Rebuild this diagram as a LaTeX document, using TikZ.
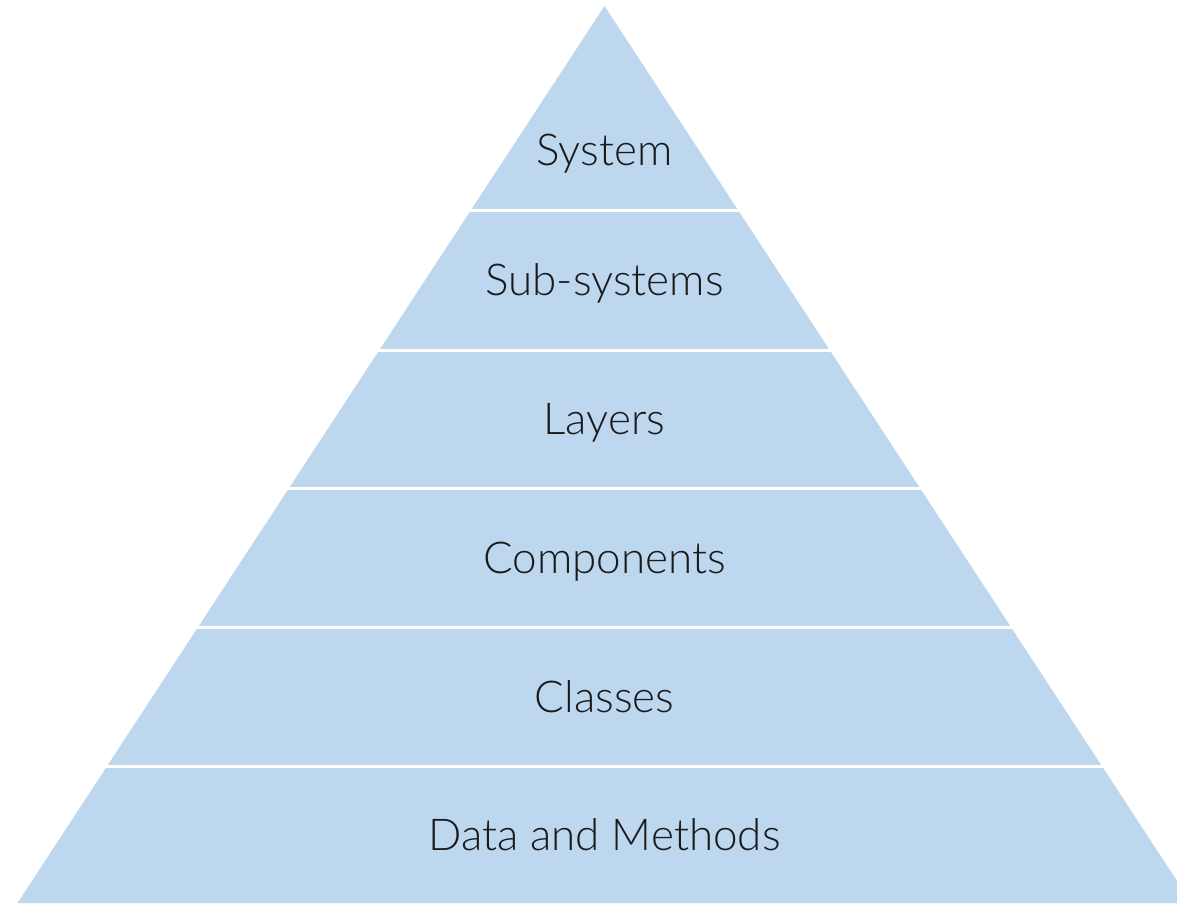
\documentclass[tikz,border=0pt]{standalone}
\usepackage{fontspec}
\setmainfont{Lato Light}
\definecolor{layerblue}{HTML}{BDD7EE}
\definecolor{labelgray}{HTML}{1A1A1A}
\tikzset{
  layerlabel/.style={font=\fontsize{25}{30}\selectfont, text=labelgray, inner sep=0pt, anchor=base},
  gapline/.style={draw=white, line width=0.06cm}
}
\begin{document}
\begin{tikzpicture}[x=0.02cm, y=-0.02cm]
	\useasboundingbox (0,0) rectangle (1177,904);
	
	% Pyramide
	\begin{scope}
		\clip (0,0) rectangle (1177,904);
		\fill[layerblue] (604.5,6) -- (1191.5,903) -- (17.5,903) -- cycle;
	\end{scope}
	
	% Skillelinjer
	\foreach \y in {210,350,488,627,766}
	\draw[gapline] (0,\y) -- (1177,\y);
	
	% Tekst
	\node[layerlabel] (system) at (604.5,165) {System};
	\node[layerlabel] (subsystems) at (604.5,295.5) {Sub-systems};
	\node[layerlabel] (layers) at (604.5,434.5) {Layers};
	\node[layerlabel] (components) at (604.5,573) {Components};
	\node[layerlabel] (classes) at (604.5,712) {Classes};
	\node[layerlabel] (datamethods) at (604.5,850) {Data and Methods};
\end{tikzpicture}
\end{document}
